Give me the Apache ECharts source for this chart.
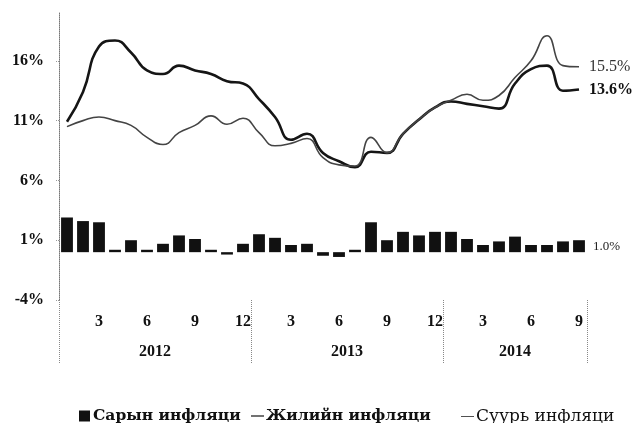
<!DOCTYPE html>
<html>
<head>
<meta charset="utf-8">
<script src="https://cdn.jsdelivr.net/npm/echarts@6/dist/echarts.min.js"></script>
<style>
html, body { margin: 0; padding: 0; background: #fff; }
#chart { width: 634px; height: 423px; }
</style>
</head>
<body>
<div id="chart"></div>
<script>
// months Jan 2012 .. Sep 2014
var months = [1,2,3,4,5,6,7,8,9,10,11,12, 1,2,3,4,5,6,7,8,9,10,11,12, 1,2,3,4,5,6,7,8,9];
var years = ['2012', '2013', '2014'];
var yearMonths = [12, 12, 9];

// Сарын инфляци (bars)
var monthly = [2.9,2.6,2.5,0.2,1.0,0.2,0.7,1.4,1.1,0.2,-0.2,0.7,
               1.5,1.2,0.6,0.7,-0.3,-0.4,0.2,2.5,1.0,1.7,1.4,1.7,
               1.7,1.1,0.6,0.9,1.3,0.6,0.6,0.9,1.0];
// Жилийн инфляци (thick line)
var annual = [10.9,13.4,17.2,17.7,16.7,15.2,14.9,15.6,15.2,14.9,14.3,14.1,
              12.8,11.3,9.4,9.9,8.3,7.6,7.1,8.4,8.3,9.9,11.1,12.1,
              12.6,12.4,12.2,12.0,14.1,15.3,15.6,13.5,13.6];
// Суурь инфляци (thin line)
var core = [10.5,11.0,11.3,11.0,10.6,9.6,9.0,10.0,10.6,11.4,10.7,11.2,
            10.0,8.9,9.1,9.5,7.9,7.3,7.2,9.6,8.3,9.9,11.1,12.1,
            12.7,13.2,12.7,13.1,14.6,16.0,18.1,15.6,15.5];

var yMin = -4, yMax = 20, yStep = 5;

// half-month slots for the year axis: labels in the middle, dotted ticks on the year borders
var yearSlots = [], yearBounds = [0], pos = 0;
for (var s = 0; s <= 2 * months.length; s++) yearSlots.push('');
for (var k = 0; k < years.length; k++) {
    yearSlots[pos + yearMonths[k]] = years[k];
    pos += 2 * yearMonths[k];
    yearBounds.push(pos);
}

var serif = 'Liberation Serif';
var legendFont = 'DejaVu Serif';
var last = monthly.length - 1;

function legendItem(name, icon, weight, size, left) {
    return {
        left: left,
        top: 403,
        itemWidth: 13,
        itemHeight: 11,
        textStyle: {fontFamily: legendFont, fontSize: size, color: '#111', padding: [0, 0, 0, -3]},
        data: [{name: name, icon: icon, textStyle: {fontWeight: weight}}]
    };
}

var chart = echarts.init(document.getElementById('chart'), null, {renderer: 'canvas'});
var option = {
    backgroundColor: '#fff',
    animation: false,
    grid: {left: 59, right: 47, top: 13, bottom: 123},
    legend: [
        legendItem('Сарын инфляци', 'path://M0,0H10V10H0Z', 'bold', 15.5, 74),
        legendItem('Жилийн инфляци', 'path://M0,0H14V1.3H0Z', 'bold', 15.5, 246),
        legendItem('Суурь инфляци', 'path://M0,0H14V1H0Z', 'normal', 17, 456)
    ],
    xAxis: [
        {
            type: 'category',
            data: months.map(String),
            boundaryGap: true,
            axisLine: {show: false},
            axisTick: {show: false},
            axisLabel: {
                interval: function (i, v) { return v % 3 === 0; },
                margin: 14,
                fontFamily: serif, fontSize: 16, fontWeight: 'bold', color: '#111'
            }
        },
        {
            type: 'category',
            data: yearSlots,
            boundaryGap: false,
            position: 'bottom',
            axisLine: {show: false},
            axisTick: {
                show: true,
                length: 63,
                interval: function (i) { return yearBounds.indexOf(i) >= 0; },
                lineStyle: {color: '#888', type: 'dotted', width: 1}
            },
            axisLabel: {
                interval: function (i, v) { return v !== ''; },
                margin: 44,
                fontFamily: serif, fontSize: 16, fontWeight: 'bold', color: '#111'
            }
        }
    ],
    yAxis: {
        type: 'value',
        min: yMin,
        max: yMax,
        interval: yStep,
        splitLine: {show: false},
        axisLine: {show: true, lineStyle: {color: '#777', type: 'dotted', width: 1}},
        axisTick: {show: true, length: 3, lineStyle: {color: '#999', type: 'dotted'}},
        axisLabel: {
            formatter: '{value}%',
            showMaxLabel: false,
            margin: 15,
            fontFamily: serif, fontSize: 16, fontWeight: 'bold', color: '#111'
        }
    },
    series: [
        {
            name: 'Сарын инфляци',
            type: 'bar',
            barWidth: '74%',
            itemStyle: {color: '#111'},
            data: monthly.map(function (v, i) {
                if (i !== last) return v;
                return {
                    value: v,
                    label: {
                        show: true, position: 'right', distance: 8,
                        formatter: function (p) { return p.value.toFixed(1) + '%'; },
                        fontFamily: serif, fontSize: 13, color: '#222'
                    }
                };
            })
        },
        {
            name: 'Жилийн инфляци',
            type: 'line',
            smooth: true,
            symbol: 'none',
            z: 3,
            lineStyle: {color: '#151515', width: 2.6},
            itemStyle: {color: '#151515'},
            endLabel: {
                show: true, distance: 10,
                formatter: function (p) { return p.value.toFixed(1) + '%'; },
                fontFamily: serif, fontSize: 16, fontWeight: 'bold', color: '#111'
            },
            data: annual
        },
        {
            name: 'Суурь инфляци',
            type: 'line',
            smooth: true,
            symbol: 'none',
            z: 4,
            lineStyle: {color: '#444', width: 1.6},
            itemStyle: {color: '#444'},
            endLabel: {
                show: true, distance: 10,
                formatter: function (p) { return p.value.toFixed(1) + '%'; },
                fontFamily: serif, fontSize: 16, color: '#333'
            },
            data: core
        }
    ]
};
chart.setOption(option);
</script>
</body>
</html>
